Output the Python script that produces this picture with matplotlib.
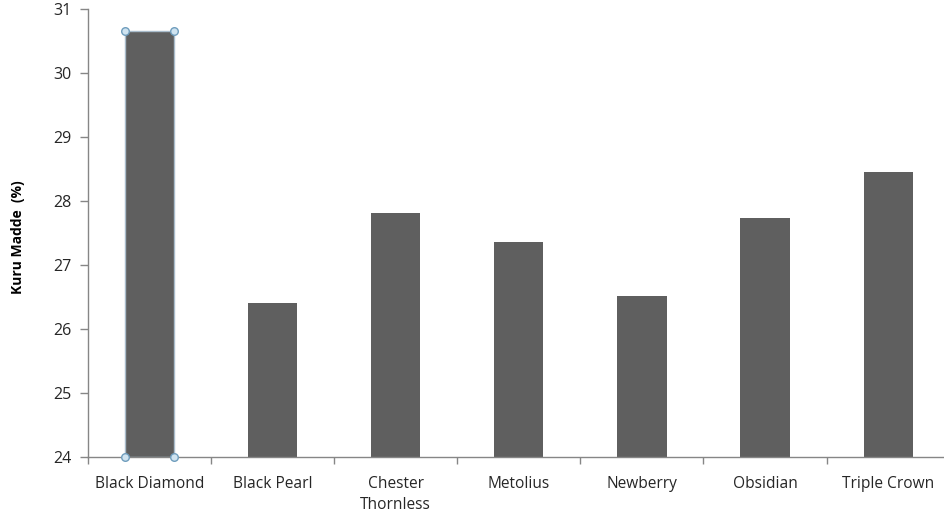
import matplotlib.pyplot as plt
import numpy as np

plt.rcParams['font.family'] = ['Open Sans', 'DejaVu Sans']

varieties = ['Black Diamond', 'Black Pearl', 'Chester\nThornless', 'Metolius',
             'Newberry', 'Obsidian', 'Triple Crown']
dry_matter = [30.65, 26.40, 27.81, 27.36, 26.51, 27.74, 28.45]
y_ticks = [24, 25, 26, 27, 28, 29, 30, 31]

fig = plt.figure(figsize=(9.45, 5.15), dpi=100)
ax = fig.add_axes([0.093, 0.1126, 0.912, 0.870])

x = np.arange(len(varieties))
width = 0.4
bars = ax.bar(x, np.array(dry_matter) - 24, width=width, bottom=24,
              color='#5f5f5f', zorder=2)

# the first bar is shown selected: light outline plus corner handles
bars[0].set_edgecolor('#a9bccb')
bars[0].set_linewidth(1.0)
x0 = x[0] - width / 2
x1 = x[0] + width / 2
ax.scatter([x0, x1, x0, x1], [dry_matter[0], dry_matter[0], 24, 24],
           s=30, facecolor='#cfe3f0', edgecolor='#6f9dbd', linewidth=1.0,
           zorder=5, clip_on=False)

ax.set_xlim(-0.5, len(varieties) - 0.5)
ax.set_ylim(24, 31)
ax.set_yticks(y_ticks)
ax.set_yticklabels([str(t) for t in y_ticks], fontsize=11.5)

ax.set_xticks(x)
ax.set_xticklabels(varieties, fontsize=11.2, linespacing=1.35)
ax.set_xticks(np.arange(len(varieties) + 1) - 0.5, minor=True)
ax.tick_params(axis='x', which='major', length=0, pad=14, colors='#262626')
ax.tick_params(axis='x', which='minor', length=5, width=1, color='#868686',
               direction='out')
ax.tick_params(axis='y', length=6, width=1, color='#868686', direction='out',
               pad=6, labelcolor='#262626')

for side in ['top', 'right']:
    ax.spines[side].set_visible(False)
for side in ['left', 'bottom']:
    ax.spines[side].set_color('#868686')
    ax.spines[side].set_linewidth(1.0)

ax.set_ylabel('Kuru Madde  (%)', fontsize=10, fontweight='bold')
ax.yaxis.set_label_coords(-0.073, 0.49)

fig.savefig('out.png', dpi=100)
